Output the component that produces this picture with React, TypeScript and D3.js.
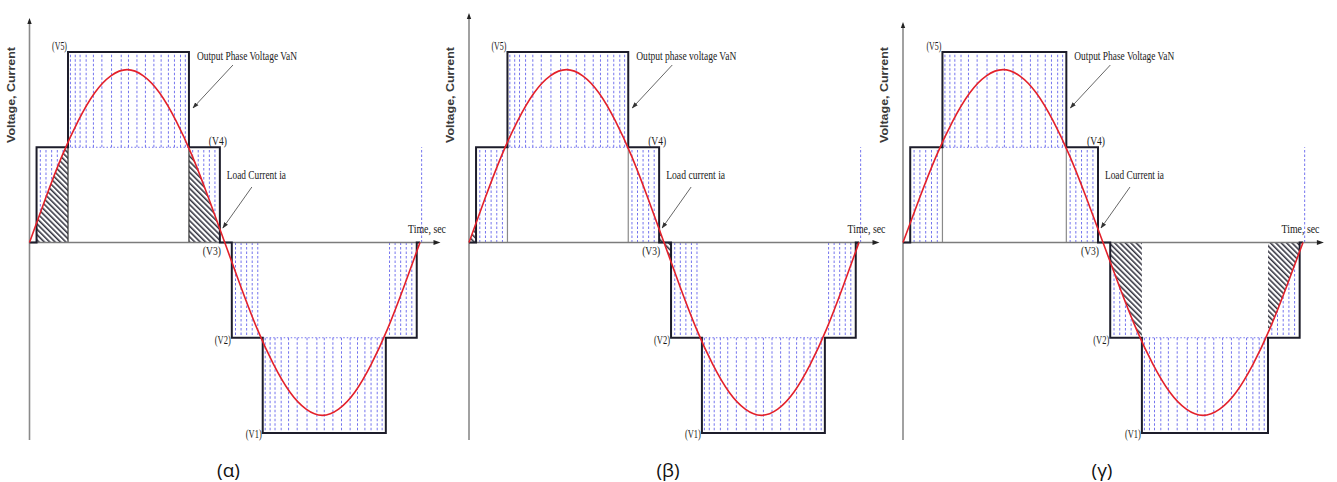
import React from "react";
import * as d3 from "d3";

// panel captions and annotation texts
const CAPTIONS = ["(α)", "(β)", "(γ)"];
const VOLTAGE_LABELS = ["Output Phase Voltage VaN", "Output phase voltage VaN", "Output Phase Voltage VaN"];
const CURRENT_LABELS = ["Load Current ia", "Load current ia", "Load Current ia"];
// which step level gets the hatched area in each panel
const HATCH_LEVELS = [1, 0, -1];

// staircase output voltage: switching angles (deg) and level after each angle
const SWITCH_ANGLES = [0, 6.5, 35.5, 147, 175.5, 186.5, 215, 328.5, 357, 360];
const STEP_LEVELS = [0, 1, 2, 1, 0, -1, -2, -1, 0, 0];
const LEVEL_NAMES = ["(V1)", "(V2)", "(V3)", "(V4)", "(V5)"];

// load current, every 15 deg
const CURRENT_ANGLES = [0, 15, 30, 45, 60, 75, 90, 105, 120, 135, 150, 165, 180, 195, 210, 225, 240, 255, 270, 285, 300, 315, 330, 345, 360];
const CURRENT_VALUES = [0, 0.47, 0.91, 1.28, 1.57, 1.75, 1.815, 1.75, 1.57, 1.28, 0.91, 0.47, 0, -0.47, -0.91, -1.28, -1.57, -1.75, -1.815, -1.75, -1.57, -1.28, -0.91, -0.47, 0];

// blue dotted switching lines, as fractions of a step
const DASH_OUTER = [0.02, 0.06, 0.1, 0.15, 0.21, 0.28, 0.36, 0.44, 0.5, 0.57, 0.64, 0.71, 0.77, 0.83, 0.88, 0.93, 0.97];
const DASH_INNER = [0.12, 0.3, 0.48, 0.66, 0.84];
const EXTRA_DASH_ANGLE = 361.5;

// layout of the three panels
const PANEL_X = [29.5, 469, 903];
const PANEL_W = [390.5, 390, 400];
const AXIS_TOP = [18, 13, 22];

const y = d3.scaleLinear().domain([-2, 2]).range([433, 52]);
const currentPts = CURRENT_ANGLES.map((a, i) => [a, CURRENT_VALUES[i]] as [number, number]);
const stepPts = SWITCH_ANGLES.map((a, i) => [a, STEP_LEVELS[i]] as [number, number]);

const serif = "'Liberation Serif', 'DejaVu Serif', serif";
const DASH_COLOR = "#7474ee";

function Panel({ i }: { i: number }) {
  const x0 = PANEL_X[i];
  const x = d3.scaleLinear().domain([0, 360]).range([x0, x0 + PANEL_W[i]]);
  const zero = y(0);

  const line = d3.line<[number, number]>().x((d) => x(d[0])).y((d) => y(d[1])).curve(d3.curveNatural);
  const area = d3
    .area<[number, number]>()
    .x((d) => x(d[0]))
    .y0(zero)
    .y1((d) => y(d[1]))
    .curve(d3.curveNatural);
  const steps = d3.line<[number, number]>().x((d) => x(d[0])).y((d) => y(d[1])).curve(d3.curveStepAfter);

  const segs = SWITCH_ANGLES.slice(0, -1).map((a, k) => ({ a, b: SWITCH_ANGLES[k + 1], level: STEP_LEVELS[k] }));

  const dashes: { xx: number; y1: number; y2: number }[] = [];
  segs.forEach((s) => {
    if (s.level === 0) return;
    const inner = s.level - Math.sign(s.level);
    const fr = Math.abs(s.level) === 2 ? DASH_OUTER : DASH_INNER;
    fr.forEach((f) => dashes.push({ xx: x(s.a + f * (s.b - s.a)), y1: y(inner), y2: y(s.level) }));
  });
  dashes.push({ xx: x(EXTRA_DASH_ANGLE), y1: y(0), y2: y(1) });

  const hatchSegs = segs.filter((s) => s.level === HATCH_LEVELS[i]);
  const clipId = `clip-${i}`;

  const xEnd = x0 + 406 * (PANEL_W[i] / 390.5);
  const cx = x0 + 199;

  return (
    <g>
      <defs>
        <clipPath id={clipId}>
          <path d={area(currentPts) || ""} />
        </clipPath>
      </defs>
      {/* dotted switching lines */}
      {dashes.map((d, k) => (
        <line key={k} x1={d.xx} x2={d.xx} y1={d.y1} y2={d.y2} stroke={DASH_COLOR} strokeWidth={1} strokeDasharray="2.5 2" />
      ))}
      <line x1={x(35.5)} x2={x(147)} y1={y(1)} y2={y(1)} stroke={DASH_COLOR} strokeWidth={1} strokeDasharray="1.5 2" />
      <line x1={x(215)} x2={x(328.5)} y1={y(-1)} y2={y(-1)} stroke={DASH_COLOR} strokeWidth={1} strokeDasharray="1.5 2" />
      {/* hatched areas */}
      <g clipPath={`url(#${clipId})`}>
        {hatchSegs.map((s, k) => (
          <rect key={k} x={x(s.a)} width={x(s.b) - x(s.a)} y={y(2.2)} height={y(-2.2) - y(2.2)} fill="url(#hatch)" />
        ))}
      </g>
      {/* grey verticals under the V5 step */}
      {[35.5, 147].map((a) => (
        <line key={a} x1={x(a)} x2={x(a)} y1={zero} y2={y(1)} stroke={i === 0 ? "#333" : "#8a8a8a"} strokeWidth={1.2} />
      ))}
      {/* axes */}
      <line x1={x0} x2={xEnd} y1={zero} y2={zero} stroke="#7c7c7c" strokeWidth={1.6} />
      <path d={`M${xEnd + 5},${zero} L${xEnd - 2},${zero - 2.5} L${xEnd - 2},${zero + 2.5} Z`} fill="#222" />
      <line x1={x0} x2={x0} y1={AXIS_TOP[i] + 3} y2={440} stroke="#8a8a8a" strokeWidth={1.6} />
      <path d={`M${x0},${AXIS_TOP[i]} L${x0 - 2.2},${AXIS_TOP[i] + 6} L${x0 + 2.2},${AXIS_TOP[i] + 6} Z`} fill="#222" />
      {/* staircase and current */}
      <path d={steps(stepPts) || ""} fill="none" stroke="#1d1d2b" strokeWidth={2} />
      <path d={line(currentPts) || ""} fill="none" stroke="#e3212b" strokeWidth={1.6} />
      {/* labels */}
      <text
        transform={`translate(${x0 - 15},95) rotate(-90)`}
        textAnchor="middle"
        fontFamily="'Liberation Sans', Arial, sans-serif"
        fontWeight="bold"
        fontSize={11}
        fill="#3a3a3a"
        textLength={96}
        lengthAdjust="spacingAndGlyphs"
      >
        Voltage, Current
      </text>
      <g fontFamily={serif} fontSize={12.5} fill="#1a1a1a">
        <text x={x(35.5) - 1} y={y(2) - 2} textAnchor="end" textLength={15} lengthAdjust="spacingAndGlyphs">{LEVEL_NAMES[4]}</text>
        <text x={x(175.5) - 11} y={y(1) - 2.5} textLength={18} lengthAdjust="spacingAndGlyphs">{LEVEL_NAMES[3]}</text>
        <text x={x(175.5) - 17} y={zero + 12} textLength={18} lengthAdjust="spacingAndGlyphs">{LEVEL_NAMES[2]}</text>
        <text x={x(186.5) - 1} y={y(-1) + 6} textAnchor="end" textLength={16} lengthAdjust="spacingAndGlyphs">{LEVEL_NAMES[1]}</text>
        <text x={x(215) - 1} y={y(-2) + 5} textAnchor="end" textLength={16} lengthAdjust="spacingAndGlyphs">{LEVEL_NAMES[0]}</text>
        <text x={x(147) + 8} y={60} textLength={100} lengthAdjust="spacingAndGlyphs">{VOLTAGE_LABELS[i]}</text>
        <text x={x(175.5) + 7} y={179} textLength={59} lengthAdjust="spacingAndGlyphs">{CURRENT_LABELS[i]}</text>
        <text x={x0 + 378.5} y={233} textLength={38} lengthAdjust="spacingAndGlyphs">Time, sec</text>
      </g>
      {/* pointer arrows */}
      <line x1={x(147) + 44} y1={65} x2={x(147) + 4} y2={108} stroke="#555" strokeWidth={0.9} markerEnd="url(#arrow)" />
      <line x1={x(175.5) + 32} y1={187} x2={x(175.5) + 3} y2={228} stroke="#555" strokeWidth={0.9} markerEnd="url(#arrow)" />
      <text x={cx} y={477} textAnchor="middle" fontFamily="'Open Sans', 'Liberation Sans', sans-serif" fontSize={19} fill="#111">
        {CAPTIONS[i]}
      </text>
    </g>
  );
}

export default function App() {
  return (
    <svg
      width={1337}
      height={482}
      style={{ position: "absolute", left: 0, top: 0, background: "#fff" }}
    >
      <defs>
        <pattern id="hatch" width={3.8} height={3.8} patternUnits="userSpaceOnUse" patternTransform="rotate(-45)">
          <rect width={3.8} height={3.8} fill="#fff" />
          <line x1={0.8} x2={0.8} y1={0} y2={3.8} stroke="#1d1d2b" strokeWidth={1.4} />
        </pattern>
        <marker id="arrow" viewBox="0 0 10 10" refX={9} refY={5} markerWidth={7} markerHeight={7} orient="auto">
          <path d="M0,1.5 L10,5 L0,8.5 Z" fill="#333" />
        </marker>
      </defs>
      {CAPTIONS.map((_, i) => (
        <Panel key={i} i={i} />
      ))}
    </svg>
  );
}
